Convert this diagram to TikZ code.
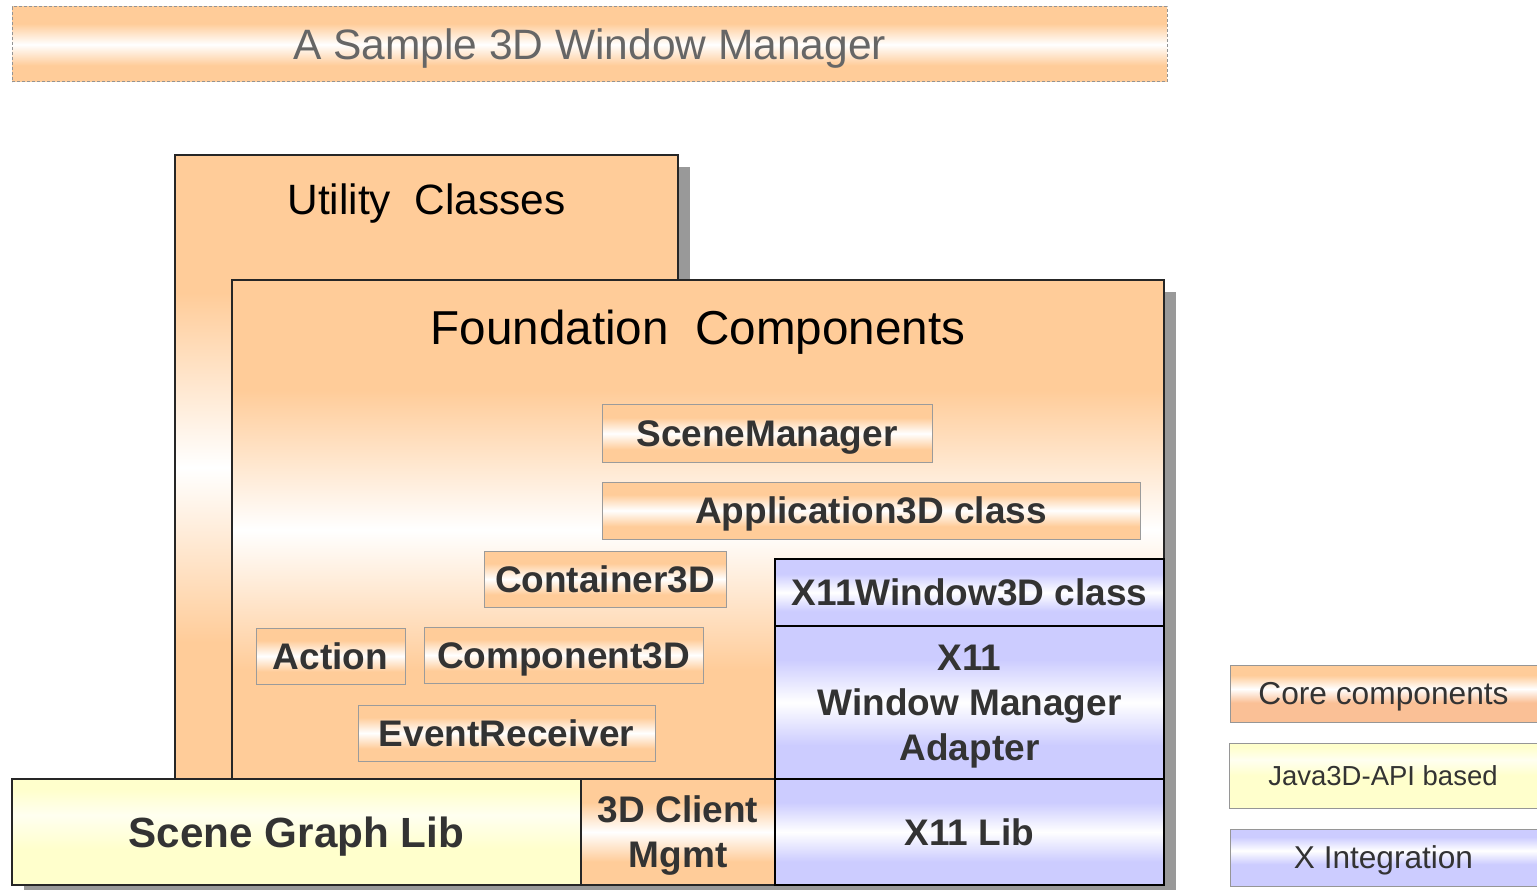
\documentclass[tikz,border=0pt]{standalone}
\usepackage{fontspec}
\setmainfont{Liberation Sans}
\usetikzlibrary{shadows}

\definecolor{coreor}{RGB}{255,204,153}
\definecolor{apiyel}{RGB}{255,255,204}
\definecolor{xlav}{RGB}{204,204,255}
\definecolor{legcore}{RGB}{250,192,150}
\definecolor{shadowgray}{RGB}{153,153,153}
\definecolor{txtdark}{RGB}{51,51,51}
\definecolor{titlegray}{RGB}{102,102,102}
\definecolor{smallframe}{RGB}{155,155,155}
\definecolor{legframe}{RGB}{150,150,150}
\definecolor{paleyel}{RGB}{255,255,240}

% vertical bands: bottom of the filled shape is 25bp, top is 75bp
\pgfdeclareverticalshading{orangeband}{100bp}{color(0bp)=(coreor); color(36bp)=(coreor); color(50bp)=(white); color(64bp)=(coreor); color(100bp)=(coreor)}
\pgfdeclareverticalshading{lavband}{100bp}{color(0bp)=(xlav); color(36bp)=(xlav); color(50bp)=(white); color(64bp)=(xlav); color(100bp)=(xlav)}
\pgfdeclareverticalshading{yelband}{100bp}{color(0bp)=(apiyel); color(42bp)=(apiyel); color(58bp)=(paleyel); color(70bp)=(apiyel); color(100bp)=(apiyel)}
\pgfdeclareverticalshading{corelegband}{100bp}{color(0bp)=(legcore); color(42bp)=(legcore); color(54bp)=(white); color(66bp)=(coreor); color(100bp)=(coreor)}
\pgfdeclareverticalshading{yellegband}{100bp}{color(0bp)=(apiyel); color(50bp)=(apiyel); color(62bp)=(paleyel); color(72bp)=(apiyel); color(100bp)=(apiyel)}
\pgfdeclareverticalshading{lavlegband}{100bp}{color(0bp)=(xlav); color(44bp)=(xlav); color(56bp)=(white); color(68bp)=(xlav); color(100bp)=(xlav)}

\begin{document}
\begin{tikzpicture}[x=1pt,y=-1pt,
  box/.style={inner sep=0pt, outer sep=0pt, anchor=north west},
  shadowed/.style={drop shadow={shadow xshift=12pt, shadow yshift=-12pt, fill=shadowgray, opacity=1}},
  bigbox/.style={box, shadowed, draw=black!85, line width=1.2pt},
  clsbox/.style={box, draw=smallframe, line width=1pt, shade, shading=orangeband,
    font=\fontsize{37}{45}\bfseries\selectfont, text=txtdark, text height=26.5pt, text depth=0pt},
  libtext/.style={font=\fontsize{37}{45}\bfseries\selectfont, text=txtdark, align=center},
  legbox/.style={box, draw=legframe, line width=1pt, text=txtdark},
]
\useasboundingbox (0,0) rectangle (1537,890);

% title banner
\node[box, draw=titlegray!70, dash pattern=on 3pt off 2pt, line width=1pt, shade, shading=orangeband,
      minimum width=1155pt, minimum height=75pt,
      font=\fontsize{42.5}{45}\selectfont, text=titlegray, text height=30.4pt, text depth=0pt]
  (title) at (12,7) {A Sample 3D Window Manager};

% utility layer
\node[bigbox, shade, shading=orangeband, minimum width=503pt, minimum height=625pt] (util) at (175,155) {};
\node[anchor=base, inner sep=0pt, font=\fontsize{42.4}{45}\selectfont] (utiltext) at (426.5,215) {Utility\ \ Classes};

% foundation layer
\node[bigbox, shade, shading=orangeband, minimum width=932pt, minimum height=500pt] (found) at (232,280) {};
\node[anchor=base, inner sep=0pt, font=\fontsize{47.6}{50}\selectfont] (foundtext) at (698,345) {Foundation\ \ Components};

% classes inside the foundation
\node[clsbox, minimum width=330pt, minimum height=57pt] (scenemgr) at (602,405) {SceneManager};
\node[clsbox, minimum width=538pt, minimum height=57pt] (app3d) at (602,482) {Application3D class};
\node[clsbox, minimum width=242pt, minimum height=56pt] (cont3d) at (484,551) {Container3D};
\node[clsbox, minimum width=149pt, minimum height=56pt] (action) at (256,628) {Action};
\node[clsbox, minimum width=279pt, minimum height=56pt] (comp3d) at (424,627) {Component3D};
\node[clsbox, minimum width=297pt, minimum height=56pt] (evrecv) at (358,705) {EventReceiver};

% X integration column
\node[bigbox, draw=black, shade, shading=lavband, minimum width=389pt, minimum height=67pt,
      font=\fontsize{37}{45}\bfseries\selectfont, text=txtdark, text height=26.5pt, text depth=0pt]
  (x11win) at (775,559) {X11Window3D class};
\node[bigbox, draw=black, shade, shading=lavband, minimum width=389pt, minimum height=153pt,
      libtext, text depth=0pt]
  (x11wm) at (775,626) {X11\\Window Manager\\Adapter};

% bottom libraries
\node[bigbox, shade, shading=yelband, minimum width=569pt, minimum height=106pt,
      font=\fontsize{42.2}{45}\bfseries\selectfont, text=txtdark, text height=30.2pt, text depth=0pt]
  (sglib) at (12,779) {Scene Graph Lib};
\node[bigbox, shade, shading=orangeband, minimum width=194pt, minimum height=106pt,
      libtext, text depth=0pt]
  (client) at (581,779) {3D Client\\Mgmt};
\node[bigbox, draw=black, shade, shading=lavband, minimum width=389pt, minimum height=106pt,
      font=\fontsize{37}{45}\bfseries\selectfont, text=txtdark, text height=26.5pt, text depth=0pt]
  (x11lib) at (775,779) {X11 Lib};

% legend
\node[legbox, shade, shading=corelegband, minimum width=307pt, minimum height=57pt,
      font=\fontsize{31.7}{34}\selectfont, text height=22.7pt, text depth=0pt]
  (legcore) at (1230,665) {Core components};
\node[legbox, shade, shading=yellegband, minimum width=308pt, minimum height=65pt,
      font=\fontsize{27.5}{30}\selectfont, text height=19.7pt, text depth=0pt]
  (legapi) at (1229,743) {Java3D-API based};
\node[legbox, shade, shading=lavlegband, minimum width=307pt, minimum height=57pt,
      font=\fontsize{31.6}{34}\selectfont, text height=22.6pt, text depth=0pt]
  (legx) at (1230,829) {X Integration};
\end{tikzpicture}
\end{document}
